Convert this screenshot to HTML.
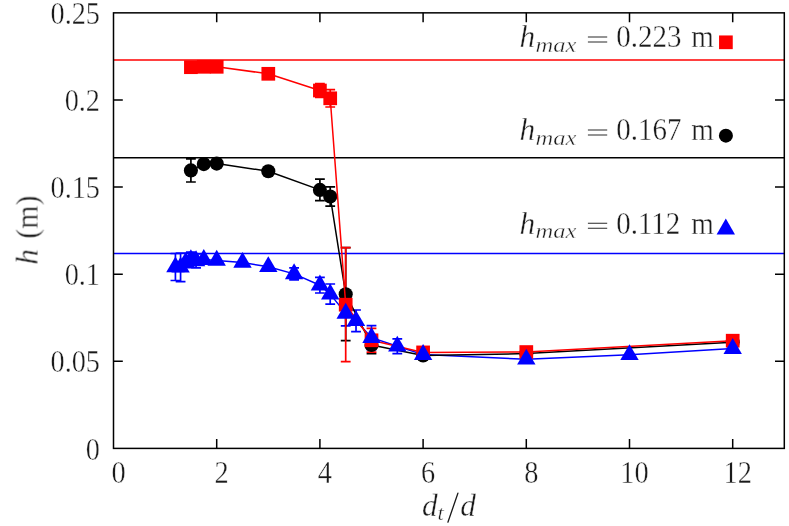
<!DOCTYPE html>
<html><head><meta charset="utf-8"><title>h vs dt/d</title>
<style>html,body{margin:0;padding:0;background:#fff;}svg{display:block;}.t,.t text{font-family:"Liberation Serif",serif;}</style></head>
<body>
<svg width="789" height="526" viewBox="0 0 789 526">
<rect x="0" y="0" width="789" height="526" fill="#ffffff"/>
<line x1="113.5" x2="784.3" y1="60.00" y2="60.00" stroke="#ff0000" stroke-width="1.3"/>
<line x1="113.5" x2="784.3" y1="157.75" y2="157.75" stroke="#000000" stroke-width="1.3"/>
<line x1="113.5" x2="784.3" y1="253.50" y2="253.50" stroke="#0000ff" stroke-width="1.3"/>
<polyline points="175.42,267.00 180.58,267.30 185.74,262.30 190.90,259.90 196.06,260.90 203.80,259.60 216.70,260.40 242.50,262.50 268.30,266.80 294.10,273.90 319.90,285.20 330.22,294.10 345.70,313.40 356.02,320.80 371.50,337.60 397.30,346.30 423.10,354.60 526.30,359.30 629.50,354.80 732.70,348.60" fill="none" stroke="#0000ff" stroke-width="1.5" stroke-linejoin="round"/>
<path d="M175.42 253.50V280.50M170.52 253.50H180.32M170.52 280.50H180.32M180.58 253.00V281.60M175.68 253.00H185.48M175.68 281.60H185.48M190.90 252.20V267.60M186.00 252.20H195.80M186.00 267.60H195.80M196.06 253.90V267.90M191.16 253.90H200.96M191.16 267.90H200.96M294.10 267.90V279.90M289.20 267.90H299.00M289.20 279.90H299.00M319.90 277.40V293.00M315.00 277.40H324.80M315.00 293.00H324.80M330.22 284.00V304.20M325.32 284.00H335.12M325.32 304.20H335.12M345.70 300.90V325.90M340.80 300.90H350.60M340.80 325.90H350.60M356.02 310.00V331.60M351.12 310.00H360.92M351.12 331.60H360.92M371.50 325.60V349.60M366.60 325.60H376.40M366.60 349.60H376.40M397.30 338.90V353.70M392.40 338.90H402.20M392.40 353.70H402.20" fill="none" stroke="#0000ff" stroke-width="1.7"/>
<path d="M190.90 158.80V182.00M186.00 158.80H195.80M186.00 182.00H195.80M319.90 179.20V200.60M315.00 179.20H324.80M315.00 200.60H324.80M330.22 186.90V206.10M325.32 186.90H335.12M325.32 206.10H335.12M345.70 247.70V340.70M340.80 247.70H350.60M340.80 340.70H350.60M371.50 336.40V353.60M366.60 336.40H376.40M366.60 353.60H376.40" fill="none" stroke="#000000" stroke-width="1.7"/>
<path d="M319.90 83.50V97.50M315.00 83.50H324.80M315.00 97.50H324.80M330.22 89.60V107.00M325.32 89.60H335.12M325.32 107.00H335.12M345.70 247.70V361.70M340.80 247.70H350.60M340.80 361.70H350.60M371.50 328.40V352.20M366.60 328.40H376.40M366.60 352.20H376.40" fill="none" stroke="#ff0000" stroke-width="1.7"/>
<polyline points="190.90,170.40 203.80,164.10 216.70,163.60 268.30,171.20 319.90,189.90 330.22,196.50 345.70,294.20 371.50,345.00 423.10,355.40 526.30,353.60 732.70,342.20" fill="none" stroke="#000000" stroke-width="1.5" stroke-linejoin="round"/>
<circle cx="190.90" cy="170.40" r="7.05" fill="#000000"/>
<circle cx="203.80" cy="164.10" r="7.05" fill="#000000"/>
<circle cx="216.70" cy="163.60" r="7.05" fill="#000000"/>
<circle cx="268.30" cy="171.20" r="7.05" fill="#000000"/>
<circle cx="319.90" cy="189.90" r="7.05" fill="#000000"/>
<circle cx="330.22" cy="196.50" r="7.05" fill="#000000"/>
<circle cx="345.70" cy="294.20" r="7.05" fill="#000000"/>
<circle cx="371.50" cy="345.00" r="7.05" fill="#000000"/>
<circle cx="423.10" cy="355.40" r="7.05" fill="#000000"/>
<circle cx="526.30" cy="353.60" r="7.05" fill="#000000"/>
<circle cx="732.70" cy="342.20" r="7.05" fill="#000000"/>
<polyline points="190.90,67.20 203.80,66.80 216.70,66.80 268.30,73.80 319.90,90.50 330.22,98.30 345.70,304.70 371.50,340.30 423.10,352.40 526.30,352.05 732.70,340.70" fill="none" stroke="#ff0000" stroke-width="1.5" stroke-linejoin="round"/>
<rect x="184.05" y="60.35" width="13.7" height="13.7" fill="#ff0000"/>
<rect x="196.95" y="59.95" width="13.7" height="13.7" fill="#ff0000"/>
<rect x="209.85" y="59.95" width="13.7" height="13.7" fill="#ff0000"/>
<rect x="261.45" y="66.95" width="13.7" height="13.7" fill="#ff0000"/>
<rect x="313.05" y="83.65" width="13.7" height="13.7" fill="#ff0000"/>
<rect x="323.37" y="91.45" width="13.7" height="13.7" fill="#ff0000"/>
<rect x="338.85" y="297.85" width="13.7" height="13.7" fill="#ff0000"/>
<rect x="364.65" y="333.45" width="13.7" height="13.7" fill="#ff0000"/>
<rect x="416.25" y="345.55" width="13.7" height="13.7" fill="#ff0000"/>
<rect x="519.45" y="345.20" width="13.7" height="13.7" fill="#ff0000"/>
<rect x="725.85" y="333.85" width="13.7" height="13.7" fill="#ff0000"/>
<polygon points="175.42,256.38 166.22,272.31 184.62,272.31" fill="#0000ff"/>
<polygon points="180.58,256.68 171.38,272.61 189.78,272.61" fill="#0000ff"/>
<polygon points="185.74,251.68 176.54,267.61 194.94,267.61" fill="#0000ff"/>
<polygon points="190.90,249.28 181.70,265.21 200.10,265.21" fill="#0000ff"/>
<polygon points="196.06,250.28 186.86,266.21 205.26,266.21" fill="#0000ff"/>
<polygon points="203.80,248.98 194.60,264.91 213.00,264.91" fill="#0000ff"/>
<polygon points="216.70,249.78 207.50,265.71 225.90,265.71" fill="#0000ff"/>
<polygon points="242.50,251.88 233.30,267.81 251.70,267.81" fill="#0000ff"/>
<polygon points="268.30,256.18 259.10,272.11 277.50,272.11" fill="#0000ff"/>
<polygon points="294.10,263.28 284.90,279.21 303.30,279.21" fill="#0000ff"/>
<polygon points="319.90,274.58 310.70,290.51 329.10,290.51" fill="#0000ff"/>
<polygon points="330.22,283.48 321.02,299.41 339.42,299.41" fill="#0000ff"/>
<polygon points="345.70,302.78 336.50,318.71 354.90,318.71" fill="#0000ff"/>
<polygon points="356.02,310.18 346.82,326.11 365.22,326.11" fill="#0000ff"/>
<polygon points="371.50,326.98 362.30,342.91 380.70,342.91" fill="#0000ff"/>
<polygon points="397.30,335.68 388.10,351.61 406.50,351.61" fill="#0000ff"/>
<polygon points="423.10,343.98 413.90,359.91 432.30,359.91" fill="#0000ff"/>
<polygon points="526.30,348.68 517.10,364.61 535.50,364.61" fill="#0000ff"/>
<polygon points="629.50,344.18 620.30,360.11 638.70,360.11" fill="#0000ff"/>
<polygon points="732.70,337.98 723.50,353.91 741.90,353.91" fill="#0000ff"/>
<rect x="113.5" y="12.85" width="670.80" height="435.55" fill="none" stroke="#000" stroke-width="1.5"/>
<path d="M216.70 448.4v-9.3M216.70 12.85v9.3M319.90 448.4v-9.3M319.90 12.85v9.3M423.10 448.4v-9.3M423.10 12.85v9.3M526.30 448.4v-9.3M526.30 12.85v9.3M629.50 448.4v-9.3M629.50 12.85v9.3M732.70 448.4v-9.3M732.70 12.85v9.3M113.5 361.29h9.3M784.3 361.29h-9.3M113.5 274.18h9.3M784.3 274.18h-9.3M113.5 187.07h9.3M784.3 187.07h-9.3M113.5 99.96h9.3M784.3 99.96h-9.3" fill="none" stroke="#000" stroke-width="1.5"/>
<rect x="719.05" y="35.45" width="13.7" height="13.7" fill="#ff0000"/>
<circle cx="725.9" cy="135.65" r="7" fill="#000000"/>
<polygon points="725.80,218.58 716.60,234.51 735.00,234.51" fill="#0000ff"/>
<g fill="#1a1a1a" class="t" opacity="0.999" stroke="#ffffff" stroke-width="0.35">
<text transform="translate(100.00 459.60) scale(0.975 1.07)" font-size="29" text-anchor="end">0</text>
<text transform="translate(100.00 372.49) scale(0.975 1.07)" font-size="29" text-anchor="end">0.05</text>
<text transform="translate(100.00 285.38) scale(0.975 1.07)" font-size="29" text-anchor="end">0.1</text>
<text transform="translate(100.00 198.27) scale(0.975 1.07)" font-size="29" text-anchor="end">0.15</text>
<text transform="translate(100.00 111.16) scale(0.975 1.07)" font-size="29" text-anchor="end">0.2</text>
<text transform="translate(100.00 24.05) scale(0.975 1.07)" font-size="29" text-anchor="end">0.25</text>
<text transform="translate(118.50 482.90) scale(0.98 1.07)" font-size="29" text-anchor="middle">0</text>
<text transform="translate(221.70 482.90) scale(0.98 1.07)" font-size="29" text-anchor="middle">2</text>
<text transform="translate(324.90 482.90) scale(0.98 1.07)" font-size="29" text-anchor="middle">4</text>
<text transform="translate(428.10 482.90) scale(0.98 1.07)" font-size="29" text-anchor="middle">6</text>
<text transform="translate(531.30 482.90) scale(0.98 1.07)" font-size="29" text-anchor="middle">8</text>
<text transform="translate(634.50 482.90) scale(0.98 1.07)" font-size="29" text-anchor="middle">10</text>
<text transform="translate(737.70 482.90) scale(0.98 1.07)" font-size="29" text-anchor="middle">12</text>
<text transform="translate(422.00 515.80) scale(1.08 1.07)" font-size="29" font-style="italic">d</text>
<text transform="translate(437.60 519.70) scale(1.1 1.07)" font-size="20.5" font-style="italic">t</text>
<path d="M447.9 522.2L457.9 493.2" stroke="#1a1a1a" stroke-width="1.3" fill="none" stroke-linecap="round"/>
<text transform="translate(460.20 515.80) scale(1.08 1.07)" font-size="29" font-style="italic">d</text>
<g transform="translate(37.6,230.7) rotate(-90)"><text transform="translate(-34.00 0.00) scale(1.08 1.07)" font-size="29" font-style="italic">h</text><text transform="translate(-8.00 0.00) scale(1.03 1.07)" font-size="29">(m)</text></g>
<text transform="translate(519.50 47.30) scale(1.08 1.07)" font-size="29" font-style="italic">h</text>
<text transform="translate(535.40 51.90) scale(1.2 1.07)" font-size="20.5" font-style="italic">max</text>
<path d="M587.9 37.00H607.2M587.9 42.00H607.2" stroke="#2a2a2a" stroke-width="1.05" fill="none"/>
<text transform="translate(616.20 47.30) scale(1.0 1.07)" font-size="29">0.223</text>
<text transform="translate(691.20 47.30) scale(1.0 1.07)" font-size="29">m</text>
<text transform="translate(519.50 140.20) scale(1.08 1.07)" font-size="29" font-style="italic">h</text>
<text transform="translate(535.40 144.80) scale(1.2 1.07)" font-size="20.5" font-style="italic">max</text>
<path d="M587.9 129.90H607.2M587.9 134.90H607.2" stroke="#2a2a2a" stroke-width="1.05" fill="none"/>
<text transform="translate(616.20 140.20) scale(1.0 1.07)" font-size="29">0.167</text>
<text transform="translate(691.20 140.20) scale(1.0 1.07)" font-size="29">m</text>
<text transform="translate(519.50 233.50) scale(1.08 1.07)" font-size="29" font-style="italic">h</text>
<text transform="translate(535.40 238.10) scale(1.2 1.07)" font-size="20.5" font-style="italic">max</text>
<path d="M587.9 223.20H607.2M587.9 228.20H607.2" stroke="#2a2a2a" stroke-width="1.05" fill="none"/>
<text transform="translate(616.20 233.50) scale(1.0 1.07)" font-size="29">0.112</text>
<text transform="translate(691.20 233.50) scale(1.0 1.07)" font-size="29">m</text>
</g>
</svg>
</body></html>
